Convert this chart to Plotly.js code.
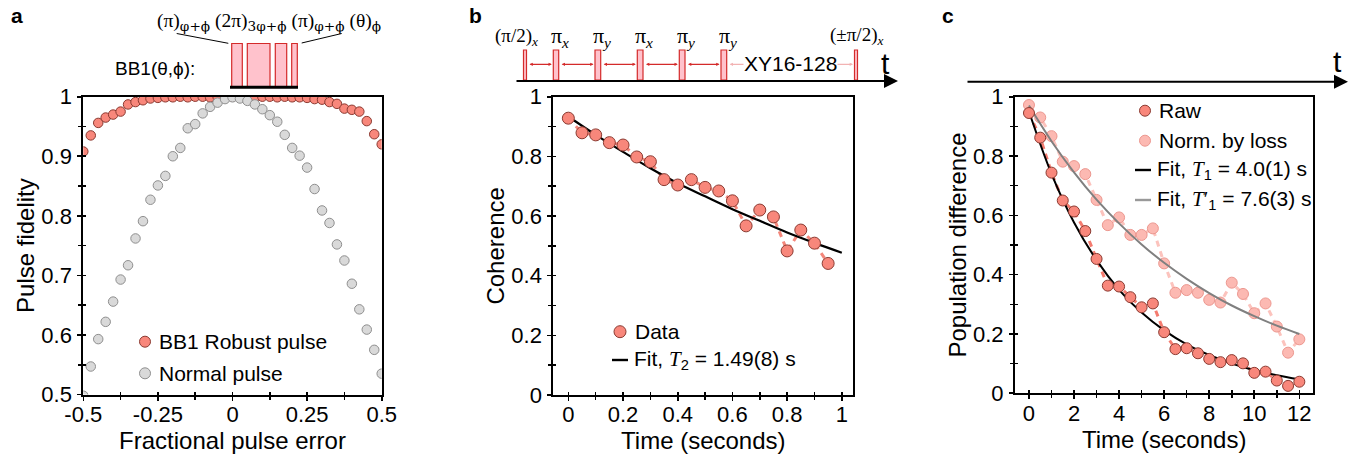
<!DOCTYPE html>
<html><head><meta charset="utf-8">
<script src="https://cdn.plot.ly/plotly-3.0.1.min.js"></script>
<style>html,body{margin:0;padding:0;background:#fff;}#chart{width:1359px;height:454px;}</style>
</head><body><div id="chart"></div>
<script>
// ---------------- data ----------------
const pulseError = [-0.5,-0.475,-0.45,-0.425,-0.4,-0.375,-0.35,-0.325,-0.3,-0.275,-0.25,-0.225,-0.2,-0.175,-0.15,-0.125,-0.1,-0.075,-0.05,-0.025,0,
  0.025,0.05,0.075,0.1,0.125,0.15,0.175,0.2,0.225,0.25,0.275,0.3,0.325,0.35,0.375,0.4,0.425,0.45,0.475,0.5];
const bb1Fidelity = [0.908,0.935,0.956,0.965,0.970,0.975,0.987,0.991,0.994,0.997,0.998,0.999,0.999,1.0,0.999,1.0,1.0,0.999,1.0,1.0,1.0,
  1.0,1.0,0.999,1.0,1.0,0.999,1.0,0.999,0.999,0.998,0.996,0.995,0.991,0.988,0.980,0.978,0.975,0.959,0.937,0.920];
const normalFidelity = [0.498,0.547,0.593,0.622,0.656,0.693,0.717,0.762,0.791,0.827,0.851,0.867,0.900,0.914,0.947,0.954,0.972,0.983,0.990,0.996,0.999,
  0.997,0.993,0.987,0.979,0.969,0.958,0.936,0.914,0.901,0.881,0.845,0.809,0.788,0.752,0.725,0.686,0.643,0.609,0.575,0.535];

const timeB = [0,0.05,0.1,0.15,0.2,0.25,0.3,0.35,0.4,0.45,0.5,0.55,0.6,0.65,0.7,0.75,0.8,0.85,0.9,0.95];
const coherence = [0.928,0.879,0.872,0.846,0.838,0.798,0.782,0.722,0.704,0.722,0.696,0.684,0.651,0.567,0.620,0.597,0.483,0.553,0.509,0.441];
const fitTimeB = [0.02,0.1,0.2,0.3,0.4,0.5,0.6,0.7,0.8,0.9,1.0];
const fitCoherence = [0.921,0.872,0.815,0.760,0.710,0.666,0.623,0.584,0.545,0.510,0.477];

const timeC = [0,0.5,1,1.5,2,2.5,3,3.5,4,4.5,5,5.5,6,6.5,7,7.5,8,8.5,9,9.5,10,10.5,11,11.5,12];
const rawPop = [0.945,0.862,0.744,0.650,0.613,0.547,0.453,0.363,0.360,0.324,0.290,0.303,0.206,0.149,0.152,0.135,0.116,0.105,0.112,0.101,0.069,0.073,0.043,0.025,0.039];
const normPop = [0.972,0.930,0.867,0.781,0.766,0.739,0.652,0.567,0.593,0.534,0.534,0.556,0.438,0.339,0.348,0.339,0.315,0.306,0.373,0.335,0.270,0.303,0.225,0.137,0.182];
const fitTimeC = [0,1,2,3,4,5,6,7,8,9,10,11,12];
const fitRaw = [0.950,0.740,0.576,0.449,0.349,0.272,0.212,0.165,0.129,0.100,0.078,0.061,0.047];
const fitNorm = [0.970,0.850,0.745,0.653,0.573,0.502,0.440,0.386,0.338,0.296,0.260,0.228,0.200];

const aXTicks = [-0.5,-0.25,0,0.25,0.5];
const aXLabels = ['-0.5','-0.25','0','0.25','0.5'];
const aYTicks = [0.5,0.6,0.7,0.8,0.9,1];
const aYLabels = ['0.5','0.6','0.7','0.8','0.9','1'];
const bXTicks = [0,0.2,0.4,0.6,0.8,1];
const bXLabels = ['0','0.2','0.4','0.6','0.8','1'];
const unitYTicks = [0,0.2,0.4,0.6,0.8,1];
const unitYLabels = ['0','0.2','0.4','0.6','0.8','1'];
const cXTicks = [0,2,4,6,8,10,12];
const cXLabels = ['0','2','4','6','8','10','12'];

// ---------------- styling helpers ----------------
const W = 1359, H = 454;
const px = v => v / W;
const py = v => 1 - v / H;
const SANS = 'Liberation Sans, Arial, Helvetica, sans-serif';
const MSERIF = 'Liberation Serif, DejaVu Serif, serif';
const RED = '#f8877b', RED_EDGE = '#8b3a31';
const GRAY = '#d9d9d9', GRAY_EDGE = '#8f8f8f';
const PINK = '#fcb9b2', PINK_EDGE = '#ec978f';

function mainAxis(domain, range, tv, tt, minorDt, minor0, title, isY, anchor, standoff) {
  return {
    domain: domain, range: range, autorange: false, anchor: anchor,
    tickmode: 'array', tickvals: tv, ticktext: tt,
    ticks: 'outside', ticklen: 4, tickwidth: 1.6, tickcolor: '#000',
    minor: {tickmode: 'linear', tick0: minor0, dtick: minorDt, ticks: 'outside', ticklen: 3, tickwidth: 1.6, tickcolor: '#000', showgrid: false},
    showline: true, linecolor: '#000', linewidth: 2, mirror: true,
    showgrid: false, zeroline: false,
    tickfont: {family: SANS, size: 22, color: '#000'},
    ticklabelstandoff: isY ? 1 : -5,
    title: {text: title, font: {family: SANS, size: 24, color: '#000'}, standoff: standoff},
    fixedrange: true
  };
}
function overlayAxis(over, anchor, range, minorDt, minor0, tv, side) {
  return {
    overlaying: over, anchor: anchor, side: side, range: range, autorange: false,
    tickmode: 'array', tickvals: tv, ticktext: tv.map(() => ''),
    ticks: 'inside', ticklen: 4, tickwidth: 1.6, tickcolor: '#000',
    minor: {tickmode: 'linear', tick0: minor0, dtick: minorDt, ticks: 'inside', ticklen: 3, tickwidth: 1.6, tickcolor: '#000', showgrid: false},
    showticklabels: false, showline: false, showgrid: false, zeroline: false, fixedrange: true
  };
}

const domA = [px(83.3), px(381.7)], domAy = [py(394.5), py(96.7)];
const domB = [px(553.3), px(853.3)], domBy = [py(395), py(96.7)];
const domC = [px(1015), px(1313.3)], domCy = [py(393.3), py(96.7)];
const rA = [-0.5, 0.5], rAy = [0.5, 1];
const rB = [-0.055, 1.042], rBy = [0, 1];
const rC = [-0.62, 12.62], rCy = [0, 1];

// ---------------- traces ----------------
const traces = [
  // panel a
  {x: pulseError, y: bb1Fidelity, xaxis: 'x', yaxis: 'y', mode: 'markers', name: 'BB1 Robust pulse',
   marker: {size: 9.5, color: RED, line: {color: RED_EDGE, width: 1}}},
  {x: pulseError, y: normalFidelity, xaxis: 'x', yaxis: 'y', mode: 'markers', name: 'Normal pulse',
   marker: {size: 9.5, color: GRAY, line: {color: GRAY_EDGE, width: 1}}},
  // panel b
  {x: timeB, y: coherence, xaxis: 'x2', yaxis: 'y2', mode: 'lines', showlegend: false,
   line: {color: '#f4877b', width: 3, dash: '6px,5px'}},
  {x: fitTimeB, y: fitCoherence, xaxis: 'x2', yaxis: 'y2', mode: 'lines', name: 'Fit',
   line: {color: '#000', width: 2.2, shape: 'spline'}},
  {x: timeB, y: coherence, xaxis: 'x2', yaxis: 'y2', mode: 'markers', name: 'Data',
   marker: {size: 12, color: RED, line: {color: RED_EDGE, width: 1}}},
  // panel c
  {x: timeC, y: normPop, xaxis: 'x3', yaxis: 'y3', mode: 'lines', showlegend: false,
   line: {color: '#fcc3bd', width: 3, dash: '6px,5px'}},
  {x: timeC, y: normPop, xaxis: 'x3', yaxis: 'y3', mode: 'markers', name: 'Norm. by loss',
   marker: {size: 11, color: PINK, line: {color: PINK_EDGE, width: 1}}},
  {x: fitTimeC, y: fitNorm, xaxis: 'x3', yaxis: 'y3', mode: 'lines', name: 'Fit T1prime',
   line: {color: '#808080', width: 2, shape: 'spline'}},
  {x: timeC, y: rawPop, xaxis: 'x3', yaxis: 'y3', mode: 'lines', showlegend: false,
   line: {color: '#f47c70', width: 3, dash: '6px,5px'}},
  {x: fitTimeC, y: fitRaw, xaxis: 'x3', yaxis: 'y3', mode: 'lines', name: 'Fit T1',
   line: {color: '#000', width: 2, shape: 'spline'}},
  {x: timeC, y: rawPop, xaxis: 'x3', yaxis: 'y3', mode: 'markers', name: 'Raw',
   marker: {size: 11, color: RED, line: {color: RED_EDGE, width: 1}}},
  // invisible traces to instantiate the tick-overlay subplots
  {x: [], y: [], xaxis: 'x4', yaxis: 'y4', mode: 'markers', showlegend: false, hoverinfo: 'skip'},
  {x: [], y: [], xaxis: 'x5', yaxis: 'y5', mode: 'markers', showlegend: false, hoverinfo: 'skip'},
  {x: [], y: [], xaxis: 'x6', yaxis: 'y6', mode: 'markers', showlegend: false, hoverinfo: 'skip'}
];

// ---------------- decorations ----------------
const shapes = [];
const annotations = [];
function rect(x0, y0, x1, y1, fill, line, lw) {
  shapes.push({type: 'rect', xref: 'paper', yref: 'paper', x0: px(x0), x1: px(x1), y0: py(y1), y1: py(y0),
    fillcolor: fill, line: {color: line, width: lw}, layer: 'above'});
}
function seg(x0, y0, x1, y1, color, lw) {
  shapes.push({type: 'line', xref: 'paper', yref: 'paper', x0: px(x0), x1: px(x1), y0: py(y0), y1: py(y1),
    line: {color: color, width: lw}, layer: 'above'});
}
function dot(cx, cy, r, fill, edge) {
  shapes.push({type: 'circle', xref: 'paper', yref: 'paper', x0: px(cx - r), x1: px(cx + r), y0: py(cy + r), y1: py(cy - r),
    fillcolor: fill, line: {color: edge, width: 1}, layer: 'above'});
}
function txt(text, x, y, size, opts) {
  opts = opts || {};
  annotations.push(Object.assign({text: text, xref: 'paper', yref: 'paper', x: px(x), y: py(y),
    xanchor: 'left', yanchor: 'middle', showarrow: false,
    font: {family: SANS, size: size, color: '#000'}}, opts));
}
function arrow(x0, y0, x1, y1, opts) {
  annotations.push(Object.assign({text: '', xref: 'paper', yref: 'paper', axref: 'paper', ayref: 'paper',
    x: px(x1), y: py(y1), ax: px(x0), ay: py(y0), showarrow: true,
    arrowhead: 2, arrowsize: 1, arrowwidth: 2, arrowcolor: '#000'}, opts));
}

// panel labels
txt('<b>a</b>', 9, 15, 21);
txt('<b>b</b>', 467, 15, 21);
txt('<b>c</b>', 940, 15, 21);

// panel a: BB1 sequence sketch
const sb = s => '<sub><span style="font-family:DejaVu Serif">' + s + '</span></sub>';
txt('(π)' + sb('φ+ϕ') + ' (2π)' + sb('3φ+ϕ') + ' (π)' + sb('φ+ϕ') + ' (θ)' + sb('ϕ'), 269, 22, 19.5,
  {xanchor: 'center', font: {family: MSERIF, size: 19.5, color: '#000'}});
txt('BB1(θ,ϕ):', 155, 68, 19, {xanchor: 'center'});
[[231.7, 242.3], [247.3, 270], [275.3, 286.7], [291.7, 297.3]].forEach(p => rect(p[0], 43.5, p[1], 86.5, '#ffc2cc', '#d42a2a', 1.2));
seg(230, 87.3, 298, 87.3, '#000', 3);
seg(176.7, 33.5, 228.3, 43.3, '#000', 1);
seg(301.7, 43, 341.7, 33.5, '#000', 1);

// panel a legend
dot(145, 341.7, 5.5, RED, RED_EDGE);
txt('BB1 Robust pulse', 157, 341.7, 21);
dot(145, 373.3, 5.5, GRAY, GRAY_EDGE);
txt('Normal pulse', 157, 373.3, 21);

// panel b: XY16 sequence sketch
arrow(515, 81, 898, 81, {arrowsize: 1.4, arrowwidth: 2});
txt('t', 885, 64, 30, {xanchor: 'center'});
const pulsesB = [[523.5, 526.5], [553.3, 558.7], [595, 600.7], [637.3, 643], [679.3, 685], [721, 726.7], [854.5, 857.5]];
pulsesB.forEach(p => rect(p[0], 50, p[1], 80, '#ffc2cc', '#d42a2a', 1.2));
for (let i = 0; i < 5; i++) {
  arrow(pulsesB[i][1] + 1.5, 64.3, pulsesB[i + 1][0] - 1.5, 64.3,
    {arrowside: 'end+start', arrowhead: 2, arrowsize: 0.55, arrowwidth: 1.2, arrowcolor: '#d42a2a'});
}
arrow(pulsesB[5][1] + 1.5, 64.3, pulsesB[6][0] - 1.5, 64.3,
  {arrowside: 'end+start', arrowhead: 2, arrowsize: 0.55, arrowwidth: 1.2, arrowcolor: '#f2b3b3'});
txt('XY16-128', 790, 64, 21, {xanchor: 'center', bgcolor: '#fff', borderpad: 0});
const mathFont = {family: MSERIF, size: 22, color: '#000'};
const smallMath = {family: MSERIF, size: 19, color: '#000'};
txt('(π/2)<sub><i>x</i></sub>', 516, 37, 19, {xanchor: 'center', font: smallMath});
txt('π<sub><i>x</i></sub>', 560, 37, 22, {xanchor: 'center', font: mathFont});
txt('π<sub><i>y</i></sub>', 602, 37, 22, {xanchor: 'center', font: mathFont});
txt('π<sub><i>x</i></sub>', 644, 37, 22, {xanchor: 'center', font: mathFont});
txt('π<sub><i>y</i></sub>', 686, 37, 22, {xanchor: 'center', font: mathFont});
txt('π<sub><i>y</i></sub>', 728, 37, 22, {xanchor: 'center', font: mathFont});
txt('(±π/2)<sub><i>x</i></sub>', 856, 36, 19, {xanchor: 'center', font: smallMath});

// panel b legend
dot(620, 331.7, 6, RED, RED_EDGE);
txt('Data', 633, 331.7, 21);
seg(612, 360, 628, 360, '#000', 2.4);
txt('Fit, <span style="font-family:Liberation Serif"><i>T</i></span><sub>2</sub> = 1.49(8) s', 632, 360, 21);

// panel c: time axis
arrow(966, 81.7, 1348, 81.7, {arrowsize: 1.4, arrowwidth: 2});
txt('t', 1337, 61, 30, {xanchor: 'center'});

// panel c legend
dot(1145, 110.7, 5.5, RED, RED_EDGE);
txt('Raw', 1157, 110.7, 21);
dot(1145, 140.7, 5.5, PINK, PINK_EDGE);
txt('Norm. by loss', 1157, 140.7, 21);
seg(1135, 170, 1151, 170, '#000', 2.4);
txt('Fit, <span style="font-family:Liberation Serif"><i>T</i></span><sub>1</sub> = 4.0(1) s', 1155, 170, 21);
seg(1135, 200, 1151, 200, '#999', 2.4);
txt('Fit, <span style="font-family:Liberation Serif"><i>T</i>′</span><sub>1</sub> = 7.6(3) s', 1155, 200, 21);

const layout = {
  width: W, height: H, margin: {l: 0, r: 0, t: 0, b: 0},
  paper_bgcolor: '#fff', plot_bgcolor: 'rgba(0,0,0,0)', showlegend: false,
  font: {family: SANS, color: '#000'},
  xaxis: mainAxis(domA, rA, aXTicks, aXLabels, 0.125, -0.5, 'Fractional pulse error', false, 'y', 3),
  yaxis: mainAxis(domAy, rAy, aYTicks, aYLabels, 0.05, 0.5, 'Pulse fidelity', true, 'x', 0),
  xaxis2: mainAxis(domB, rB, bXTicks, bXLabels, 0.1, 0, 'Time (seconds)', false, 'y2', 3),
  yaxis2: mainAxis(domBy, rBy, unitYTicks, unitYLabels, 0.1, 0, 'Coherence', true, 'x2', 0),
  xaxis3: mainAxis(domC, rC, cXTicks, cXLabels, 1, 0, 'Time (seconds)', false, 'y3', 3),
  yaxis3: mainAxis(domCy, rCy, unitYTicks, unitYLabels, 0.1, 0, 'Population difference', true, 'x3', 0),
  xaxis4: overlayAxis('x', 'y4', rA, 0.125, -0.5, aXTicks, 'bottom'),
  yaxis4: overlayAxis('y', 'x4', rAy, 0.05, 0.5, aYTicks, 'left'),
  xaxis5: overlayAxis('x2', 'y5', rB, 0.1, 0, bXTicks, 'bottom'),
  yaxis5: overlayAxis('y2', 'x5', rBy, 0.1, 0, unitYTicks, 'left'),
  xaxis6: overlayAxis('x3', 'y6', rC, 1, 0, cXTicks, 'bottom'),
  yaxis6: overlayAxis('y3', 'x6', rCy, 0.1, 0, unitYTicks, 'left'),
  shapes: shapes, annotations: annotations
};

Plotly.newPlot('chart', traces, layout, {displayModeBar: false, staticPlot: true});
</script></body></html>
